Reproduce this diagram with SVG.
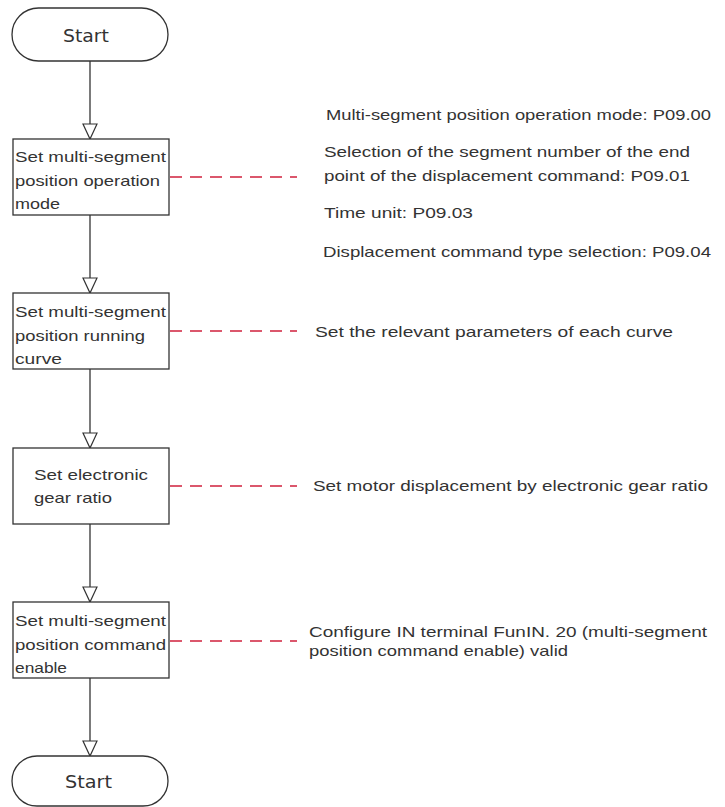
<svg xmlns="http://www.w3.org/2000/svg" width="725" height="807" viewBox="0 0 725 807">
<defs>
<marker id="arr" markerUnits="userSpaceOnUse" markerWidth="20" markerHeight="20" refX="16" refY="8" orient="auto">
<path d="M1,1 L16,8 L1,15 Z" fill="#fff" stroke="#333" stroke-width="1.2"/>
</marker>
<style>
.term{fill:#fff;stroke:#333;stroke-width:1.3}
.box{fill:#fff;stroke:#333;stroke-width:1.3}
.tt{font-family:"DejaVu Sans","Liberation Sans",sans-serif;font-size:18px;fill:#333}
.bt{font-family:"Liberation Sans",Arial,sans-serif;font-size:15px;fill:#333}
.rt{font-family:"Liberation Sans",Arial,sans-serif;font-size:15px;fill:#333}
.flow{stroke:#333;stroke-width:1.3;fill:none}
.dash{stroke:#d0203c;stroke-width:1.3;stroke-dasharray:12 8;fill:none}
</style>
</defs>
<rect width="725" height="807" fill="#fff"/>
<g id="connectors">
<line class="flow" x1="90" y1="61" x2="90" y2="139" marker-end="url(#arr)"/>
<line class="flow" x1="90" y1="215" x2="90" y2="293" marker-end="url(#arr)"/>
<line class="flow" x1="90" y1="369" x2="90" y2="448" marker-end="url(#arr)"/>
<line class="flow" x1="90" y1="524" x2="90" y2="602" marker-end="url(#arr)"/>
<line class="flow" x1="90" y1="678" x2="90" y2="756" marker-end="url(#arr)"/>
<line class="dash" x1="170" y1="177" x2="297" y2="177"/>
<line class="dash" x1="170" y1="331" x2="297" y2="331"/>
<line class="dash" x1="170" y1="486" x2="297" y2="486"/>
<line class="dash" x1="170" y1="641" x2="297" y2="641"/>
</g>
<g id="start">
<rect class="term" x="12" y="8" width="156" height="53" rx="26.5" ry="26.5"/>
<text class="tt" x="63" y="42" textLength="46" lengthAdjust="spacingAndGlyphs">Start</text>
</g>
<g id="box1">
<rect class="box" x="13" y="139" width="156" height="76"/>
<text class="bt" x="15" y="162" textLength="151" lengthAdjust="spacingAndGlyphs">Set multi-segment</text>
<text class="bt" x="15" y="186" textLength="145" lengthAdjust="spacingAndGlyphs">position operation</text>
<text class="bt" x="15" y="209" textLength="45" lengthAdjust="spacingAndGlyphs">mode</text>
</g>
<g id="box2">
<rect class="box" x="13" y="293" width="156" height="76"/>
<text class="bt" x="15" y="317" textLength="151" lengthAdjust="spacingAndGlyphs">Set multi-segment</text>
<text class="bt" x="15" y="341" textLength="130" lengthAdjust="spacingAndGlyphs">position running</text>
<text class="bt" x="15" y="364" textLength="47" lengthAdjust="spacingAndGlyphs">curve</text>
</g>
<g id="box3">
<rect class="box" x="13" y="448" width="156" height="76"/>
<text class="bt" x="34" y="480" textLength="114" lengthAdjust="spacingAndGlyphs">Set electronic</text>
<text class="bt" x="34" y="503" textLength="78" lengthAdjust="spacingAndGlyphs">gear ratio</text>
</g>
<g id="box4">
<rect class="box" x="13" y="602" width="156" height="76"/>
<text class="bt" x="15" y="626" textLength="151" lengthAdjust="spacingAndGlyphs">Set multi-segment</text>
<text class="bt" x="15" y="650" textLength="151" lengthAdjust="spacingAndGlyphs">position command</text>
<text class="bt" x="15" y="673" textLength="52" lengthAdjust="spacingAndGlyphs">enable</text>
</g>
<g id="end">
<rect class="term" x="12" y="756" width="156" height="50" rx="25" ry="25"/>
<text class="tt" x="65" y="788" textLength="47" lengthAdjust="spacingAndGlyphs">Start</text>
</g>
<g id="notes">
<text class="rt" x="326" y="120" textLength="385" lengthAdjust="spacingAndGlyphs">Multi-segment position operation mode: P09.00</text>
<text class="rt" x="324" y="157" textLength="366" lengthAdjust="spacingAndGlyphs">Selection of the segment number of the end</text>
<text class="rt" x="324" y="181" textLength="366" lengthAdjust="spacingAndGlyphs">point of the displacement command: P09.01</text>
<text class="rt" x="324" y="218" textLength="149" lengthAdjust="spacingAndGlyphs">Time unit:  P09.03</text>
<text class="rt" x="323" y="257" textLength="388" lengthAdjust="spacingAndGlyphs">Displacement command type selection:  P09.04</text>
<text class="rt" x="315" y="337" textLength="358" lengthAdjust="spacingAndGlyphs">Set the relevant parameters of each curve</text>
<text class="rt" x="313" y="491" textLength="395" lengthAdjust="spacingAndGlyphs">Set motor displacement by electronic gear ratio</text>
<text class="rt" x="309" y="637" textLength="398" lengthAdjust="spacingAndGlyphs">Configure IN terminal FunIN. 20 (multi-segment</text>
<text class="rt" x="309" y="656" textLength="259" lengthAdjust="spacingAndGlyphs">position command enable) valid</text>
</g>
</svg>
